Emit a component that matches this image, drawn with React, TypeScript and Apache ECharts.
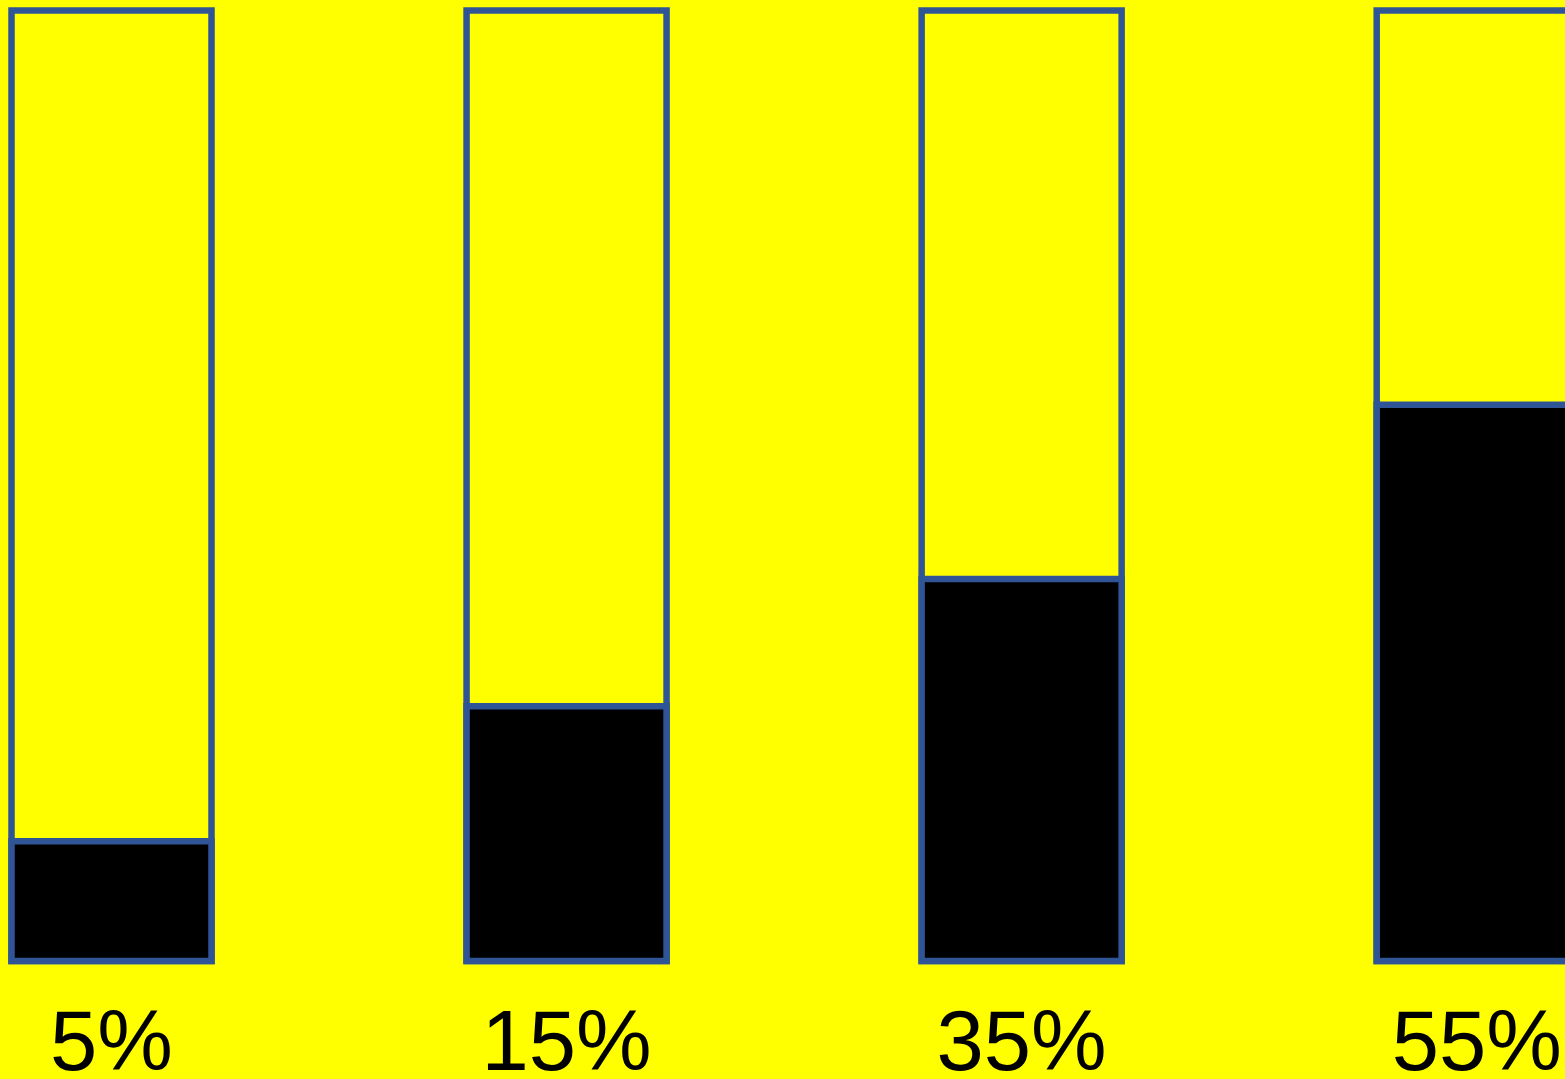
import React, { useEffect, useRef } from "react";
import * as echarts from "echarts";

const categories = ["5%", "15%", "35%", "55%"];
const fillValues = [13.2, 27.3, 40.6, 58.8];
const fullValues = [100, 100, 100, 100];

export default function App() {
  const ref = useRef<HTMLDivElement>(null);
  useEffect(() => {
    document.body.style.margin = "0";
    document.body.style.overflow = "hidden";
    const chart = echarts.init(ref.current!, null, { renderer: "svg", width: 1565, height: 1079 });
    const border = "#2F5597";
    chart.setOption({
      animation: false,
      backgroundColor: "#FFFF00",
      grid: {
        left: 111.5,
        right: 88.3,
        top: 7.25,
        bottom: 114.75,
        containLabel: false,
        outerBoundsMode: "none",
      },
      xAxis: {
        type: "category",
        data: categories,
        boundaryGap: false,
        axisLine: { show: false },
        axisTick: { show: false },
        splitLine: { show: false },
        axisLabel: {
          color: "#000",
          fontSize: 85,
          lineHeight: 60,
          fontFamily: "Liberation Sans, Arial, sans-serif",
          verticalAlign: "middle",
          margin: 76,
          interval: 0,
        },
      },
      yAxis: { type: "value", min: 0, max: 100, show: false },
      series: [
        {
          type: "bar",
          data: fullValues,
          barWidth: 206.5,
          barGap: "-100%",
          clip: false,
          silent: true,
          itemStyle: { color: "#FFFF00", borderColor: border, borderWidth: 6.5 },
        },
        {
          type: "bar",
          data: fillValues,
          barWidth: 206.5,
          barGap: "-100%",
          clip: false,
          silent: true,
          itemStyle: { color: "#000000", borderColor: border, borderWidth: 6.5 },
        },
      ],
    });
    return () => chart.dispose();
  }, []);
  return (
    <div
      ref={ref}
      style={{ position: "fixed", left: 0, top: 0, width: 1565, height: 1079 }}
    />
  );
}
